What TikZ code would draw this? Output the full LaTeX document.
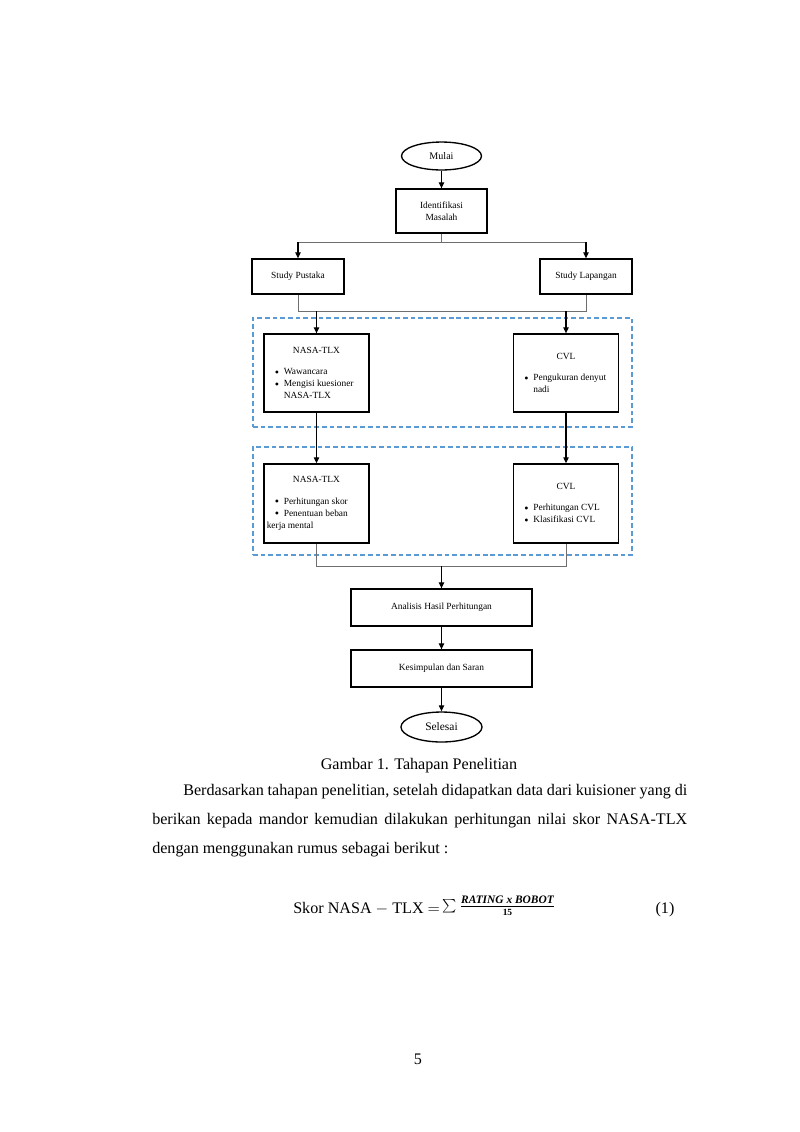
\documentclass[tikz,border=0pt]{standalone}
\usepackage{fontspec}
\setmainfont{Liberation Serif}
\usetikzlibrary{shapes.geometric,arrows.meta}
\definecolor{dashblue}{RGB}{91,155,213}
\definecolor{linegray}{RGB}{110,110,110}
\newcommand{\bdot}{\raisebox{-1pt}{\fontsize{9}{9}\selectfont\textbullet}}
\newcommand{\bitem}[1]{\hspace*{8pt}\makebox[6.7pt][l]{\bdot}#1}
\newcommand{\bcont}[1]{\hspace*{14.7pt}#1}
\begin{document}
\begin{tikzpicture}[x=0.744pt,y=-0.744pt,
  box/.style={draw=black,line width=1pt,rectangle,inner sep=0pt,font=\fontsize{7}{9}\selectfont,align=center},
  term/.style={draw=black,line width=1pt,ellipse,inner sep=0pt,align=center},
  conn/.style={draw=linegray,line width=0.5pt},
  arr/.style={draw=black,line width=0.8pt,-{Triangle[length=4.5pt,width=4pt]}},
  group/.style={draw=dashblue,line width=1pt,dash pattern=on 3.5pt off 2.2pt,inner sep=0pt},
  body/.style={font=\fontsize{12}{22}\selectfont,inner sep=0pt}
]
\useasboundingbox[fill=white] (0,0) rectangle (800,1132);

% groups
\node[group,minimum width=282pt,minimum height=81.1pt] (g1) at (442.5,372.5) {};
\node[group,minimum width=282pt,minimum height=80.4pt] (g2) at (442.5,501) {};

% nodes
\node[term,minimum width=59.5pt,minimum height=20.8pt,font=\fontsize{7.5}{9}\selectfont] (start) at (441.5,156) {Mulai};
\node[box,minimum width=67.7pt,minimum height=32.7pt] (ident) at (441.5,211) {Identifikasi\\Masalah};
\node[box,minimum width=68.4pt,minimum height=26pt] (sp) at (298,276.5) {Study Pustaka};
\node[box,minimum width=68.4pt,minimum height=26pt] (sl) at (586,276.5) {Study Lapangan};

\node[box,minimum width=78.1pt,minimum height=58pt] (nasa1) at (316.5,373) {%
\begin{minipage}{78pt}\centering NASA-TLX\par\vspace{7pt}\raggedright
\bitem{Wawancara}\\
\bitem{Mengisi kuesioner}\\
\bcont{NASA-TLX}\end{minipage}};
\node[box,minimum width=78.1pt,minimum height=58pt] (cvl1) at (566,373) {%
\begin{minipage}{78pt}\centering CVL\par\vspace{7pt}\raggedright
\bitem{Pengukuran denyut}\\
\bcont{nadi}\end{minipage}};
\node[box,minimum width=78.1pt,minimum height=58.8pt] (nasa2) at (316.5,503.5) {%
\begin{minipage}{78pt}\centering NASA-TLX\par\vspace{7pt}\raggedright
\bitem{Perhitungan skor}\\
\bitem{Penentuan beban}\\
\hspace*{2pt}kerja mental\end{minipage}};
\node[box,minimum width=78.1pt,minimum height=58.8pt] (cvl2) at (566,503.5) {%
\begin{minipage}{78pt}\centering CVL\par\vspace{7pt}\raggedright
\bitem{Perhitungan CVL}\\
\bitem{Klasifikasi CVL}\end{minipage}};

\node[box,minimum width=134.7pt,minimum height=27.5pt] (anal) at (441.5,607.5) {Analisis Hasil Perhitungan};
\node[box,minimum width=134.7pt,minimum height=27.5pt] (kes) at (441.5,668.5) {Kesimpulan dan Saran};
\node[term,minimum width=60.3pt,minimum height=22.3pt,font=\fontsize{8.5}{10}\selectfont] (end) at (441.5,727) {Selesai};

% junction coordinates
\coordinate (j1) at (441.5,242);
\coordinate (jL) at (298,242);
\coordinate (jR) at (586,242);
\coordinate (k1) at (298,311);
\coordinate (k2) at (586,311);
\coordinate (a1) at (316.5,311);
\coordinate (a2) at (566,311);
\coordinate (m1) at (316.5,566);
\coordinate (m2) at (566,566);
\coordinate (m3) at (441.5,566);

% connectors
\draw[arr] (start) -- (ident);
\draw[conn] (ident.south) -- (j1);
\draw[conn] (jL) -- (jR);
\draw[arr] (jL) -- (sp.north);
\draw[arr] (jR) -- (sl.north);
\draw[conn] (sp.south) -- (k1) -- (k2) -- (sl.south);
\draw[arr] (a1) -- (nasa1.north);
\draw[arr] (a2) -- (cvl1.north);
\draw[arr] (nasa1.south) -- (nasa2.north);
\draw[arr] (cvl1.south) -- (cvl2.north);
\draw[conn] (nasa2.south) -- (m1) -- (m2) -- (cvl2.south);
\draw[arr] (m3) -- (anal.north);
\draw[arr] (anal) -- (kes);
\draw[arr] (kes) -- (end);

% text
\node[font=\fontsize{12}{14}\selectfont,anchor=base,inner sep=0pt] (cap) at (419,769) {Gambar 1. Tahapan Penelitian};
\node[body,anchor=base west] (p1) at (183,795) {\makebox[375pt][s]{Berdasarkan tahapan penelitian, setelah didapatkan data dari kuisioner yang di}};
\node[body,anchor=base west] (p2) at (152,824) {\makebox[398pt][s]{berikan kepada mandor kemudian dilakukan perhitungan nilai skor NASA-TLX}};
\node[body,anchor=base west] (p3) at (152,853) {dengan menggunakan rumus sebagai berikut :};
\node[body,anchor=base west] (eq) at (293,913) {Skor NASA $-$ TLX $=$\,\raisebox{2pt}{$\sum\frac{\mbox{\fontsize{8.5}{9}\selectfont\bfseries\itshape RATING x BOBOT}}{\mbox{\fontsize{7}{8}\selectfont\bfseries 15}}$}};
\node[body,anchor=base] (eqn) at (665,913) {(1)};
\node[body,anchor=base] (pg) at (418,1064) {5};
\end{tikzpicture}
\end{document}
